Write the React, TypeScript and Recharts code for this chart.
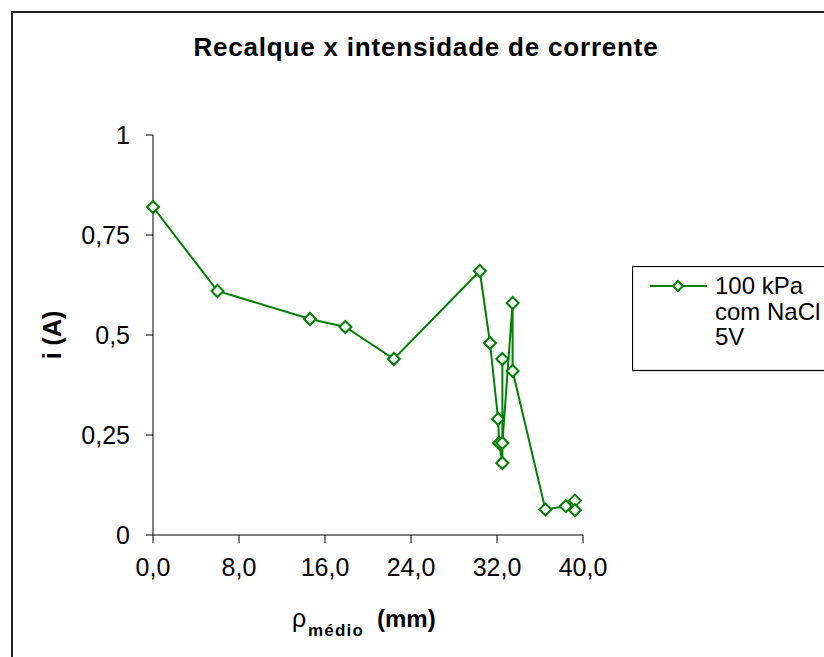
import React from 'react';
import { LineChart, Line, XAxis, YAxis, Legend } from 'recharts';

const recalqueMm = [0, 6.0, 14.6, 17.9, 22.4, 30.4, 31.35, 32.1, 32.2, 32.5, 32.5, 32.5, 33.45, 33.45, 36.5, 38.4, 39.25, 39.25];
const correnteA = [0.82, 0.61, 0.54, 0.52, 0.44, 0.66, 0.48, 0.29, 0.23, 0.18, 0.44, 0.23, 0.58, 0.41, 0.064, 0.072, 0.086, 0.062];
const xTicks = [0, 8, 16, 24, 32, 40];
const yTicks = [0, 0.25, 0.5, 0.75, 1];
const seriesName = ['100 kPa', 'com NaCl', '5V'];
const title = 'Recalque x intensidade de corrente';

const data = recalqueMm.map((x, k) => ({ x, i: correnteA[k] }));

const GREEN = '#008000';
const FONT = '"Liberation Sans", Arial, sans-serif';

const Diamond = (props: any) => {
  const { cx, cy } = props;
  if (cx == null || cy == null) return null;
  const r = 6;
  return (
    <path
      d={`M${cx},${cy - r}L${cx + r},${cy}L${cx},${cy + r}L${cx - r},${cy}Z`}
      fill="#fff"
      stroke={GREEN}
      strokeWidth={2}
    />
  );
};

const LegendBox = () => (
  <svg width={200} height={106} style={{ display: 'block' }}>
    <rect x={0.5} y={0.5} width={260} height={104} fill="#fff" stroke="#000" strokeWidth={1.2} />
    <line x1={18} y1={20} x2={75} y2={20} stroke={GREEN} strokeWidth={2} />
    <path d="M46,15L51,20L46,25L41,20Z" fill="#fff" stroke={GREEN} strokeWidth={2} />
    {seriesName.map((s, k) => (
      <text key={s} x={83} y={28 + k * 25.5} fontSize={24} fontFamily={FONT} fill="#000">
        {s}
      </text>
    ))}
  </svg>
);

export default function App() {
  return (
    <div style={{ position: 'absolute', left: 0, top: 0, width: 824, height: 657, background: '#fff' }}>
      <LineChart
        width={824}
        height={657}
        data={data}
        margin={{ top: 135, right: 241, bottom: 62, left: 93 }}
      >
        <XAxis
          type="number"
          dataKey="x"
          domain={[0, 40]}
          ticks={xTicks}
          tickFormatter={(v: number) => v.toFixed(1).replace('.', ',')}
          height={60}
          tickSize={8}
          tickMargin={15}
          stroke="#000"
          tick={{ fontSize: 25, fill: '#000', fontFamily: FONT }}
          tickLine={{ stroke: '#000' }}
        />
        <YAxis
          type="number"
          dataKey="i"
          domain={[0, 1]}
          ticks={yTicks}
          tickFormatter={(v: number) => String(v).replace('.', ',')}
          width={60}
          tickSize={7}
          tickMargin={16}
          stroke="#000"
          tick={{ fontSize: 25, fill: '#000', fontFamily: FONT }}
          tickLine={{ stroke: '#000' }}
        />
        <Legend
          layout="horizontal"
          verticalAlign="middle"
          align="center"
          content={() => <LegendBox />}
          wrapperStyle={{ position: 'absolute', left: 632, top: 266, width: 200, height: 106 }}
        />
        <Line
          type="linear"
          dataKey="i"
          stroke={GREEN}
          strokeWidth={2}
          dot={<Diamond />}
          activeDot={false}
          isAnimationActive={false}
        />
      </LineChart>
      <svg
        width={824}
        height={657}
        style={{ position: 'absolute', left: 0, top: 0, pointerEvents: 'none' }}
      >
        <rect x={12} y={12} width={900} height={900} fill="none" stroke="#222" strokeWidth={2} />
        <text
          x={426}
          y={56}
          textAnchor="middle"
          fontSize={26}
          fontWeight="bold"
          letterSpacing={0.8}
          fontFamily={FONT}
          fill="#000"
        >
          {title}
        </text>
        <text
          x={61}
          y={335}
          transform="rotate(-90 61 335)"
          textAnchor="middle"
          fontSize={25}
          fontWeight="bold"
          fontFamily={FONT}
          fill="#000"
        >
          i (A)
        </text>
        <text x={292} y={627} fontSize={25} fontFamily={FONT} fill="#000">ρ</text>
        <text x={308} y={636} fontSize={17} fontWeight="bold" letterSpacing={1.2} fontFamily={FONT} fill="#000">médio</text>
        <text x={377} y={627} fontSize={24} fontWeight="bold" fontFamily={FONT} fill="#000">(mm)</text>
      </svg>
    </div>
  );
}
